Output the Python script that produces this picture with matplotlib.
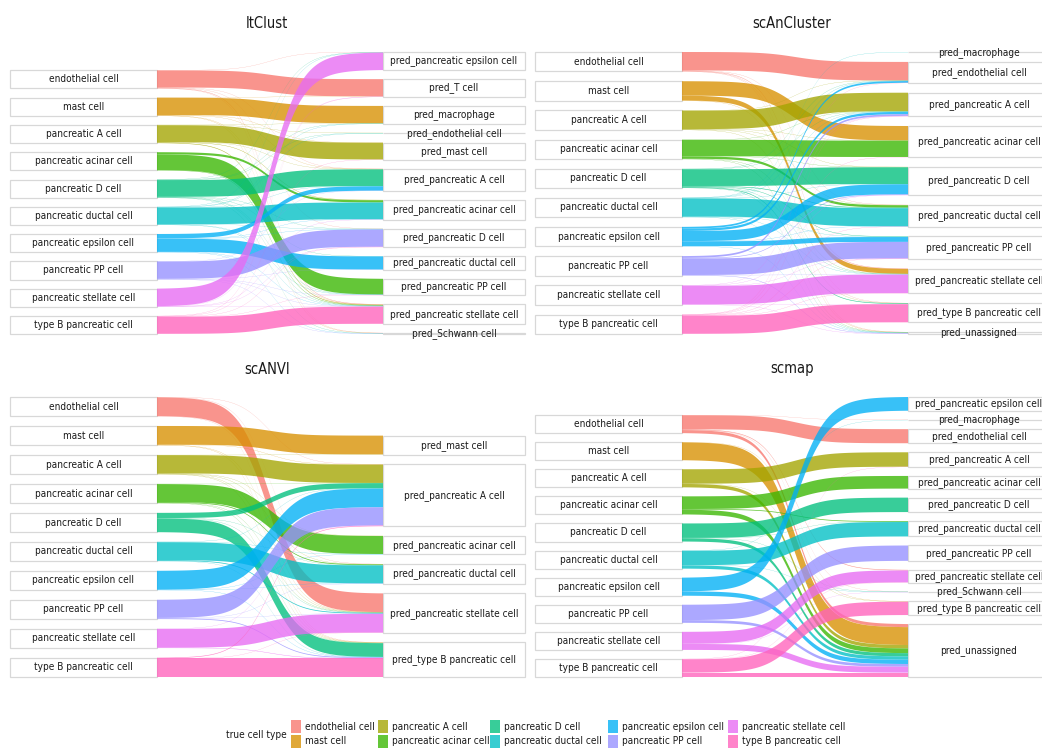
import matplotlib
matplotlib.use('Agg')
import matplotlib.pyplot as plt
from matplotlib import font_manager
from matplotlib.patches import Rectangle, Polygon
import numpy as np

W, H = 1042, 750

TRUE_TYPES = ['endothelial cell', 'mast cell', 'pancreatic A cell',
              'pancreatic acinar cell', 'pancreatic D cell',
              'pancreatic ductal cell', 'pancreatic epsilon cell',
              'pancreatic PP cell', 'pancreatic stellate cell',
              'type B pancreatic cell']
COLORS = ['#F8766D', '#D89000', '#A3A500', '#39B600', '#00BF7D',
          '#00BFC4', '#00B0F6', '#9590FF', '#E76BF3', '#FF62BC']

# ItClust: predicted labels (top to bottom), rows = true cell types
ITCLUST_PRED = ['pred_pancreatic epsilon cell', 'pred_T cell', 'pred_macrophage',
                'pred_endothelial cell', 'pred_mast cell', 'pred_pancreatic A cell',
                'pred_pancreatic acinar cell', 'pred_pancreatic D cell',
                'pred_pancreatic ductal cell', 'pred_pancreatic PP cell',
                'pred_pancreatic stellate cell', 'pred_Schwann cell']
ITCLUST_FLOWS = [
    [1, 94, 0, 0, 0, 1, 0, 1, 0, 0, 2, 1],
    [0, 1, 95, 0, 1, 1, 0, 0, 0, 0, 1, 1],
    [0, 0, 1, 1, 92, 1, 2, 0, 0, 0, 3, 0],
    [0, 0, 0, 0, 0, 0, 12, 0, 0, 86, 2, 0],
    [1, 0, 1, 1, 0, 92, 0, 1, 1, 1, 1, 1],
    [1, 0, 1, 1, 0, 1, 92, 1, 0, 1, 1, 0],
    [0, 0, 0, 0, 0, 24, 1, 1, 72, 0, 1, 1],
    [0, 0, 0, 0, 0, 1, 0, 95, 1, 1, 1, 1],
    [96, 1, 0, 0, 0, 0, 1, 1, 0, 0, 1, 0],
    [0, 1, 0, 0, 1, 0, 0, 1, 0, 1, 94, 1],
]

SCANCLUSTER_PRED = ['pred_macrophage', 'pred_endothelial cell',
                    'pred_pancreatic A cell', 'pred_pancreatic acinar cell',
                    'pred_pancreatic D cell', 'pred_pancreatic ductal cell',
                    'pred_pancreatic PP cell', 'pred_pancreatic stellate cell',
                    'pred_type B pancreatic cell', 'pred_unassigned']
SCANCLUSTER_FLOWS = [
    [0, 95, 0, 0, 0, 1, 0, 2, 1, 1],
    [0, 0, 0, 74, 0, 0, 0, 25, 0, 1],
    [0, 1, 95, 1, 1, 1, 0, 0, 1, 0],
    [0, 0, 1, 84, 1, 12, 0, 1, 0, 1],
    [0, 1, 1, 0, 86, 3, 2, 1, 3, 1],
    [1, 1, 1, 0, 1, 93, 1, 1, 0, 1],
    [0, 9, 12, 0, 52, 1, 25, 0, 0, 1],
    [0, 0, 9, 0, 3, 0, 85, 1, 0, 2],
    [0, 0, 1, 0, 1, 0, 1, 95, 1, 1],
    [0, 1, 1, 1, 0, 1, 1, 1, 93, 1],
]

SCANVI_PRED = ['pred_mast cell', 'pred_pancreatic A cell',
               'pred_pancreatic acinar cell', 'pred_pancreatic ductal cell',
               'pred_pancreatic stellate cell', 'pred_type B pancreatic cell']
SCANVI_FLOWS = [
    [0, 1, 0, 1, 97, 1],
    [97, 1, 0, 0, 1, 1],
    [1, 95, 1, 1, 1, 1],
    [0, 1, 93, 4, 1, 1],
    [0, 27, 0, 1, 1, 71],
    [0, 1, 1, 93, 4, 1],
    [0, 97, 1, 1, 0, 1],
    [0, 94, 0, 1, 1, 4],
    [0, 1, 0, 0, 97, 2],
    [0, 3, 0, 0, 1, 96],
]

SCMAP_PRED = ['pred_pancreatic epsilon cell', 'pred_macrophage',
              'pred_endothelial cell', 'pred_pancreatic A cell',
              'pred_pancreatic acinar cell', 'pred_pancreatic D cell',
              'pred_pancreatic ductal cell', 'pred_pancreatic PP cell',
              'pred_pancreatic stellate cell', 'pred_Schwann cell',
              'pred_type B pancreatic cell', 'pred_unassigned']
SCMAP_FLOWS = [
    [0, 1, 78, 0, 0, 0, 0, 0, 3, 1, 0, 17],
    [0, 0, 0, 0, 0, 0, 0, 0, 0, 0, 1, 99],
    [0, 0, 0, 80, 0, 0, 0, 0, 0, 0, 1, 19],
    [0, 0, 0, 0, 70, 0, 4, 0, 0, 0, 0, 26],
    [0, 0, 0, 0, 0, 80, 1, 0, 0, 1, 0, 18],
    [0, 1, 0, 0, 0, 0, 80, 0, 0, 1, 0, 18],
    [76, 0, 0, 0, 0, 0, 0, 0, 0, 0, 0, 24],
    [0, 0, 0, 0, 0, 0, 0, 85, 0, 0, 0, 15],
    [0, 0, 0, 0, 0, 0, 0, 0, 66, 1, 0, 33],
    [0, 0, 0, 1, 0, 0, 0, 0, 1, 0, 74, 24],
]

METHODS = ['ItClust', 'scAnCluster', 'scANVI', 'scmap']
PREDS = [ITCLUST_PRED, SCANCLUSTER_PRED, SCANVI_PRED, SCMAP_PRED]
FLOWS = [ITCLUST_FLOWS, SCANCLUSTER_FLOWS, SCANVI_FLOWS, SCMAP_FLOWS]

GAP = 50          # space between stacked nodes, in cell units
ALPHA = 0.78
BOX_EDGE = '#d8d8d8'
TEXT_COLOR = '#1a1a1a'

# panel layout in pixels: left edge, top and bottom of node area, title y
PANELS = [(10, 52, 334, 24), (535, 52, 334, 24),
          (10, 397, 677, 369), (535, 397, 677, 369)]
LBOX = (0, 147)
RBOX = (373, 515)


def pick_narrow_font():
    """ Returns a condensed sans font if one is installed, else None. """
    found = []
    for f in font_manager.fontManager.ttflist:
        if f.style != 'normal' or f.weight not in (400, 'normal', 'regular'):
            continue
        name = f.name.lower()
        narrow = ('narrow' in name or 'condensed' in name
                  or f.stretch in ('condensed', 'semi-condensed', 375))
        if narrow and 'mono' not in name and 'serif' not in name.replace('sans', ''):
            found.append(f)
    if not found:
        return None
    found.sort(key=lambda f: (0 if 'liberation' in f.name.lower() else 1))
    return found[0]


narrow = pick_narrow_font()
if narrow is not None:
    LABEL_FONT = font_manager.FontProperties(fname=narrow.fname, size=7.2)
    TITLE_FONT = font_manager.FontProperties(fname=narrow.fname, size=10.5)
else:
    LABEL_FONT = font_manager.FontProperties(family='Liberation Sans', size=7.3)
    TITLE_FONT = font_manager.FontProperties(family='Liberation Sans', size=11)


def stack(sizes, gap):
    """ Returns (top, bottom) of each node, stacked downward and ending at 0. """
    total = sum(sizes) + gap * (len(sizes) - 1)
    pos = []
    y = total
    for s in sizes:
        pos.append((y, y - s))
        y -= s + gap
    return pos, total


def sigmoid_curve(y0, y1, n=120, smooth=7.0):
    t = np.linspace(-smooth, smooth, n)
    s = 1 / (1 + np.exp(-t))
    s = (s - s[0]) / (s[-1] - s[0])
    return y0 + (y1 - y0) * s


def draw_panel(fig, panel, title, preds, flows):
    x0, ytop, ybot, ytitle = panel
    flows = np.array(flows, dtype=float)
    left_sizes = flows.sum(axis=1)
    right_sizes = flows.sum(axis=0)
    left_pos, ltot = stack(left_sizes, GAP)
    right_pos, rtot = stack(right_sizes, GAP)
    ymax = max(ltot, rtot)

    ax = fig.add_axes([x0 / W, (H - ybot) / H, 520 / W, (ybot - ytop) / H])
    ax.set_xlim(0, 520)
    ax.set_ylim(0, ymax)
    ax.axis('off')

    # node boxes
    for (top, bot), name in zip(left_pos, TRUE_TYPES):
        ax.add_patch(Rectangle((LBOX[0], bot), LBOX[1] - LBOX[0], top - bot,
                               facecolor='white', edgecolor=BOX_EDGE,
                               lw=0.9, clip_on=False))
        ax.text((LBOX[0] + LBOX[1]) / 2, (top + bot) / 2, name, ha='center',
                va='center', fontproperties=LABEL_FONT, color=TEXT_COLOR,
                clip_on=False)
    for (top, bot), name in zip(right_pos, preds):
        ax.add_patch(Rectangle((RBOX[0], bot), RBOX[1] - RBOX[0], top - bot,
                               facecolor='white', edgecolor=BOX_EDGE,
                               lw=0.9, clip_on=False))
        ax.text((RBOX[0] + RBOX[1]) / 2, (top + bot) / 2, name, ha='center',
                va='center', fontproperties=LABEL_FONT, color=TEXT_COLOR,
                clip_on=False)

    # flows: ordered by target at the source node, by source at the target
    xs = np.linspace(LBOX[1], RBOX[0], 120)
    lcur = [p[0] for p in left_pos]
    rstart = {}
    for j in range(flows.shape[1]):
        y = right_pos[j][0]
        for i in range(flows.shape[0]):
            rstart[(i, j)] = y
            y -= flows[i, j]
    for i in range(flows.shape[0]):
        for j in range(flows.shape[1]):
            v = flows[i, j]
            if v <= 0:
                continue
            l_top = lcur[i]
            r_top = rstart[(i, j)]
            lcur[i] -= v
            top = sigmoid_curve(l_top, r_top)
            bot = sigmoid_curve(l_top - v, r_top - v)
            pts = np.concatenate([np.column_stack([xs, top]),
                                  np.column_stack([xs[::-1], bot[::-1]])])
            ax.add_patch(Polygon(pts, closed=True, facecolor=COLORS[i],
                                 alpha=ALPHA, lw=0))

    fig.text((x0 + 257) / W, 1 - ytitle / H, title, ha='center', va='center',
             fontproperties=TITLE_FONT, color=TEXT_COLOR)


fig = plt.figure(figsize=(W / 100, H / 100), dpi=100)
for panel, title, preds, flows in zip(PANELS, METHODS, PREDS, FLOWS):
    draw_panel(fig, panel, title, preds, flows)

# legend, laid out by hand: title on the left, two rows of five columns
fig.text(287 / W, 1 - 735 / H, 'true cell type', ha='right', va='center',
         fontproperties=LABEL_FONT, color=TEXT_COLOR)
col_x = [291, 378, 490, 608, 728]
row_y = [720, 735]
for k, (name, col) in enumerate(zip(TRUE_TYPES, COLORS)):
    cx = col_x[k // 2]
    ry = row_y[k % 2]
    fig.patches.append(Rectangle((cx / W, 1 - (ry + 13) / H), 10 / W, 13 / H,
                                 transform=fig.transFigure, facecolor=col,
                                 alpha=ALPHA, lw=0))
    fig.text((cx + 14) / W, 1 - (ry + 6.5) / H, name, ha='left', va='center',
             fontproperties=LABEL_FONT, color=TEXT_COLOR)

fig.savefig('out.png', dpi=100)
